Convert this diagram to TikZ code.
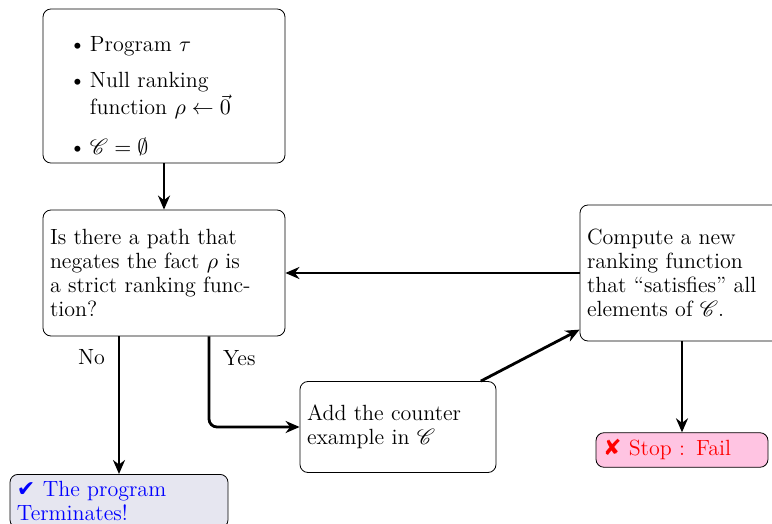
\documentclass[tikz,border=0pt]{standalone}
\usepackage{amsmath}
\usepackage{amssymb}
\usepackage{mathrsfs}
\usepackage{enumitem}
\usepackage{fontspec}
\newfontfamily\dingfont{DejaVu Sans}
\usetikzlibrary{arrows.meta,positioning}
\definecolor{okfill}{RGB}{230,230,240}
\definecolor{failfill}{RGB}{255,196,226}

\begin{document}
\begin{tikzpicture}[x=0.5pt, y=-0.5pt, >={Stealth[length=7pt,width=6pt]},
    every node/.style={font=\fontsize{11}{12}\selectfont},
    block/.style={draw, rounded corners=4pt, align=left, inner sep=3.5pt},
    flow/.style={->, line width=1.4pt}]
    \clip (0,0) rectangle (772,524);
    \node[block, text width=114pt, minimum height=77pt] (init) at (164,86) {%
      \vspace*{6pt}
      \begin{itemize}[leftmargin=20pt, labelsep=2pt, itemsep=6pt, topsep=0pt, parsep=0pt]
        \item Program $\tau$
        \item Null ranking\\ function $\rho \leftarrow \vec{0}$\vspace{2pt}
        \item $\mathscr{C} = \emptyset$
      \end{itemize}};
    \node[block, text width=114pt, minimum height=63pt] (ask) at (164,273)
      {Is there a path that\\negates the fact $\rho$ is\\a strict ranking func-\\tion?};
    \node[block, text width=114pt, minimum height=68pt] (newrank) at (701,273)
      {Compute a new\\ranking function\\that ``satisfies'' all\\elements of $\mathscr{C}$.};
    \node[block, text width=91pt, minimum height=45.5pt] (addcex) at (398,427)
      {Add the counter\\example in $\mathscr{C}$};
    \node[block, fill=okfill, text=blue, text width=102pt, anchor=north] (done) at (119,474)
      {{\dingfont ✔} The program\\Terminates!};
    \node[block, fill=failfill, text=red, text width=79pt] (fail) at (682,450)
      {{\dingfont ✘} Stop : Fail};

    \draw[flow] (init) -- (ask);
    \draw[flow] (newrank) -- (ask);
    \draw[flow] (done.north |- ask.south) -- node[left, xshift=-3pt, pos=0.15] {No} (done.north);
    \draw[flow, rounded corners=4pt] ([xshift=22.5pt]ask.south) |-
      node[right, xshift=3pt, pos=0.12] {Yes} (addcex.west);
    \draw[flow] (addcex.29) -- (newrank.205);
    \draw[flow] (fail.north |- newrank.south) -- (fail);
  \end{tikzpicture}
\end{document}
